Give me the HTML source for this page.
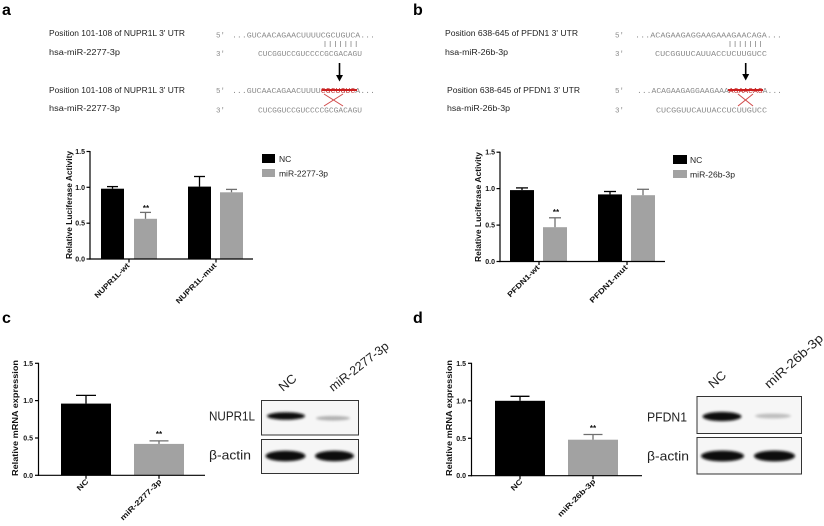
<!DOCTYPE html>
<html><head><meta charset="utf-8"><style>
html,body{margin:0;padding:0;background:#fff;}
svg{display:block;}
.pl{font-family:"Liberation Sans",Arial,sans-serif;font-size:8px;fill:#222;}
.sq{font-family:"Liberation Mono","DejaVu Sans Mono",monospace;font-size:7.5px;fill:#8a8a8a;}
.tk{font-family:"Liberation Sans",Arial,sans-serif;font-size:7px;font-weight:bold;fill:#111;}
.tt{font-family:"Liberation Sans",Arial,sans-serif;font-size:8px;font-weight:bold;fill:#111;}
.xl{font-family:"Liberation Sans",Arial,sans-serif;font-size:7.5px;font-weight:bold;fill:#111;}
.lg{font-family:"Liberation Sans",Arial,sans-serif;font-size:8.5px;fill:#222;}
.bl{font-family:"Liberation Sans",Arial,sans-serif;font-size:12.5px;fill:#222;}
.lt{font-family:"Liberation Sans",Arial,sans-serif;font-size:16px;font-weight:bold;fill:#000;}
</style></head><body>
<svg width="824" height="526" viewBox="0 0 824 526" xmlns="http://www.w3.org/2000/svg">
<defs>
<filter id="bl" x="-30%" y="-100%" width="160%" height="300%"><feGaussianBlur stdDeviation="1.3"/></filter>
</defs>
<rect width="824" height="526" fill="#fff"/>

<!-- Panel letters -->
<text class="lt" x="2" y="15">a</text>
<text class="lt" x="413" y="15">b</text>
<text class="lt" x="2" y="323">c</text>
<text class="lt" x="413" y="323">d</text>

<!-- ===== Panel a sequences ===== -->
<text class="pl" x="49" y="36" textLength="136" lengthAdjust="spacingAndGlyphs">Position 101-108 of NUPR1L 3' UTR</text>
<text class="pl" x="49" y="55" textLength="71" lengthAdjust="spacingAndGlyphs">hsa-miR-2277-3p</text>
<text class="pl" x="49" y="93" textLength="136" lengthAdjust="spacingAndGlyphs">Position 101-108 of NUPR1L 3' UTR</text>
<text class="pl" x="49" y="111" textLength="71" lengthAdjust="spacingAndGlyphs">hsa-miR-2277-3p</text>

<text class="sq" x="216" y="37.5">5'</text>
<text class="sq" x="232" y="37.5" textLength="143" lengthAdjust="spacingAndGlyphs">...GUCAACAGAACUUUUCGCUGUCA...</text>
<g stroke="#8a8a8a" stroke-width="0.8">
<line x1="325" y1="41" x2="325" y2="47"/><line x1="330.2" y1="41" x2="330.2" y2="47"/><line x1="335.4" y1="41" x2="335.4" y2="47"/><line x1="340.6" y1="41" x2="340.6" y2="47"/><line x1="345.8" y1="41" x2="345.8" y2="47"/><line x1="351" y1="41" x2="351" y2="47"/><line x1="356.2" y1="41" x2="356.2" y2="47"/>
</g>
<text class="sq" x="216" y="56">3'</text>
<text class="sq" x="258" y="56" textLength="104" lengthAdjust="spacingAndGlyphs">CUCGGUCCGUCCCCGCGACAGU</text>
<line x1="339.5" y1="63" x2="339.5" y2="76" stroke="#000" stroke-width="1.6"/>
<polygon points="336,75 343,75 339.5,81.5" fill="#000"/>
<text class="sq" x="216" y="93">5'</text>
<text class="sq" x="232" y="93" textLength="143" lengthAdjust="spacingAndGlyphs">...GUCAACAGAACUUUU<tspan fill="#c03030">CGCUGUC</tspan>A...</text>
<line x1="322" y1="90" x2="357" y2="90" stroke="#cc1f1f" stroke-width="2"/>
<line x1="324" y1="94" x2="343" y2="106" stroke="#d04848" stroke-width="1"/>
<line x1="343" y1="94" x2="324" y2="106" stroke="#d04848" stroke-width="1"/>
<text class="sq" x="216" y="112.5">3'</text>
<text class="sq" x="258" y="112.5" textLength="104" lengthAdjust="spacingAndGlyphs">CUCGGUCCGUCCCCGCGACAGU</text>

<!-- ===== Panel b sequences ===== -->
<text class="pl" x="445" y="36" textLength="133" lengthAdjust="spacingAndGlyphs">Position 638-645 of PFDN1 3' UTR</text>
<text class="pl" x="445" y="55" textLength="63" lengthAdjust="spacingAndGlyphs">hsa-miR-26b-3p</text>
<text class="pl" x="447" y="93" textLength="133" lengthAdjust="spacingAndGlyphs">Position 638-645 of PFDN1 3' UTR</text>
<text class="pl" x="447" y="111" textLength="63" lengthAdjust="spacingAndGlyphs">hsa-miR-26b-3p</text>

<text class="sq" x="615" y="37.5">5'</text>
<text class="sq" x="635" y="37.5" textLength="147" lengthAdjust="spacingAndGlyphs">...ACAGAAGAGGAAGAAAGAACAGA...</text>
<g stroke="#8a8a8a" stroke-width="0.8">
<line x1="730" y1="41" x2="730" y2="47"/><line x1="735.1" y1="41" x2="735.1" y2="47"/><line x1="740.2" y1="41" x2="740.2" y2="47"/><line x1="745.3" y1="41" x2="745.3" y2="47"/><line x1="750.4" y1="41" x2="750.4" y2="47"/><line x1="755.5" y1="41" x2="755.5" y2="47"/><line x1="760.6" y1="41" x2="760.6" y2="47"/>
</g>
<text class="sq" x="615" y="56">3'</text>
<text class="sq" x="655" y="56" textLength="112" lengthAdjust="spacingAndGlyphs">CUCGGUUCAUUACCUCUUGUCC</text>
<line x1="745.7" y1="63" x2="745.7" y2="75" stroke="#000" stroke-width="1.6"/>
<polygon points="742.2,74 749.2,74 745.7,80.5" fill="#000"/>
<text class="sq" x="615" y="93">5'</text>
<text class="sq" x="637" y="93" textLength="145" lengthAdjust="spacingAndGlyphs">...ACAGAAGAGGAAGAAA<tspan fill="#c03030">AGAACAG</tspan>A...</text>
<line x1="728" y1="90" x2="763" y2="90" stroke="#cc1f1f" stroke-width="2"/>
<line x1="738" y1="94" x2="753" y2="106" stroke="#d04848" stroke-width="1"/>
<line x1="753" y1="94" x2="738" y2="106" stroke="#d04848" stroke-width="1"/>
<text class="sq" x="615" y="112.5">3'</text>
<text class="sq" x="656" y="112.5" textLength="111" lengthAdjust="spacingAndGlyphs">CUCGGUUCAUUACCUCUUGUCC</text>

<!-- ===== Panel a bar chart ===== -->
<g>
<rect x="101" y="188.7" width="23" height="70.3" fill="#000"/>
<rect x="134" y="218.8" width="23" height="40.2" fill="#a2a2a2"/>
<rect x="188" y="186.6" width="23" height="72.4" fill="#000"/>
<rect x="220" y="192.3" width="23" height="66.7" fill="#a2a2a2"/>
<g stroke="#000" stroke-width="1.3">
<line x1="112.5" y1="188.7" x2="112.5" y2="186.6"/><line x1="107" y1="186.6" x2="118" y2="186.6"/>
<line x1="199.5" y1="186.6" x2="199.5" y2="176.5"/><line x1="194" y1="176.5" x2="205" y2="176.5"/>
</g>
<g stroke="#6f6f6f" stroke-width="1.3">
<line x1="145.5" y1="218.8" x2="145.5" y2="212.4"/><line x1="140" y1="212.4" x2="151" y2="212.4"/>
<line x1="231.5" y1="192.3" x2="231.5" y2="189.4"/><line x1="226" y1="189.4" x2="237" y2="189.4"/>
</g>
<g stroke="#000" stroke-width="1.2">
<line x1="90" y1="151" x2="90" y2="259.6"/><line x1="89.4" y1="259" x2="253" y2="259"/>
<line x1="86.5" y1="151.5" x2="90" y2="151.5"/><line x1="86.5" y1="187.3" x2="90" y2="187.3"/><line x1="86.5" y1="223.2" x2="90" y2="223.2"/><line x1="86.5" y1="259" x2="90" y2="259"/>
<line x1="129" y1="259" x2="129" y2="262.5"/><line x1="216" y1="259" x2="216" y2="262.5"/>
</g>
<text class="tk" x="85" y="154" text-anchor="end">1.5</text>
<text class="tk" x="85" y="189.8" text-anchor="end">1.0</text>
<text class="tk" x="85" y="225.7" text-anchor="end">0.5</text>
<text class="tk" x="85" y="261.5" text-anchor="end">0.0</text>
<text class="tt" transform="translate(72,205) rotate(-90)" text-anchor="middle" textLength="108" lengthAdjust="spacingAndGlyphs">Relative Luciferase Activity</text>
<text class="xl" transform="translate(130,266) rotate(-45)" text-anchor="end" textLength="46" lengthAdjust="spacingAndGlyphs">NUPR1L-wt</text>
<text class="xl" transform="translate(217,266) rotate(-45)" text-anchor="end" textLength="54" lengthAdjust="spacingAndGlyphs">NUPR1L-mut</text>
<text class="tt" x="146" y="211" text-anchor="middle">**</text>
<rect x="262" y="154" width="13" height="9" fill="#000"/>
<text class="lg" x="279" y="162">NC</text>
<rect x="262" y="169" width="13" height="8" fill="#a2a2a2"/>
<text class="lg" x="279" y="176.5" textLength="49" lengthAdjust="spacingAndGlyphs">miR-2277-3p</text>
</g>

<!-- ===== Panel b bar chart ===== -->
<g>
<rect x="510" y="190.1" width="24" height="71.4" fill="#000"/>
<rect x="543" y="227.2" width="24" height="34.3" fill="#a2a2a2"/>
<rect x="598" y="194.4" width="24" height="67.1" fill="#000"/>
<rect x="631" y="195.2" width="24" height="66.3" fill="#a2a2a2"/>
<g stroke="#000" stroke-width="1.3">
<line x1="522" y1="190.1" x2="522" y2="187.9"/><line x1="516" y1="187.9" x2="528" y2="187.9"/>
<line x1="610" y1="194.4" x2="610" y2="191.5"/><line x1="604" y1="191.5" x2="616" y2="191.5"/>
</g>
<g stroke="#6f6f6f" stroke-width="1.3">
<line x1="555" y1="227.2" x2="555" y2="217.8"/><line x1="549" y1="217.8" x2="561" y2="217.8"/>
<line x1="643" y1="195.2" x2="643" y2="189.3"/><line x1="637" y1="189.3" x2="649" y2="189.3"/>
</g>
<g stroke="#000" stroke-width="1.2">
<line x1="500" y1="151.7" x2="500" y2="262.1"/><line x1="499.4" y1="261.5" x2="665" y2="261.5"/>
<line x1="496.5" y1="152.2" x2="500" y2="152.2"/><line x1="496.5" y1="188.6" x2="500" y2="188.6"/><line x1="496.5" y1="225.1" x2="500" y2="225.1"/><line x1="496.5" y1="261.5" x2="500" y2="261.5"/>
<line x1="539" y1="261.5" x2="539" y2="265"/><line x1="627" y1="261.5" x2="627" y2="265"/>
</g>
<text class="tk" x="495" y="154.7" text-anchor="end">1.5</text>
<text class="tk" x="495" y="191.1" text-anchor="end">1.0</text>
<text class="tk" x="495" y="227.6" text-anchor="end">0.5</text>
<text class="tk" x="495" y="264" text-anchor="end">0.0</text>
<text class="tt" transform="translate(481,207) rotate(-90)" text-anchor="middle" textLength="110" lengthAdjust="spacingAndGlyphs">Relative Luciferase Activity</text>
<text class="xl" transform="translate(540,268) rotate(-45)" text-anchor="end" textLength="42" lengthAdjust="spacingAndGlyphs">PFDN1-wt</text>
<text class="xl" transform="translate(628,268) rotate(-45)" text-anchor="end" textLength="50" lengthAdjust="spacingAndGlyphs">PFDN1-mut</text>
<text class="tt" x="556" y="215" text-anchor="middle">**</text>
<rect x="673" y="155" width="14" height="9" fill="#000"/>
<text class="lg" x="690" y="163">NC</text>
<rect x="673" y="170" width="14" height="8" fill="#a2a2a2"/>
<text class="lg" x="690" y="177.5" textLength="45" lengthAdjust="spacingAndGlyphs">miR-26b-3p</text>
</g>

<!-- ===== Panel c bar chart ===== -->
<g>
<rect x="61" y="403.6" width="50" height="71.7" fill="#000"/>
<rect x="134" y="443.9" width="50" height="31.4" fill="#a2a2a2"/>
<g stroke="#000" stroke-width="1.3">
<line x1="86" y1="403.6" x2="86" y2="395.4"/><line x1="76" y1="395.4" x2="96" y2="395.4"/>
</g>
<g stroke="#6f6f6f" stroke-width="1.3">
<line x1="159" y1="443.9" x2="159" y2="440.9"/><line x1="149.5" y1="440.9" x2="168.5" y2="440.9"/>
</g>
<g stroke="#000" stroke-width="1.2">
<line x1="38.5" y1="362.8" x2="38.5" y2="475.9"/><line x1="37.9" y1="475.3" x2="205" y2="475.3"/>
<line x1="35" y1="363.3" x2="38.5" y2="363.3"/><line x1="35" y1="400.6" x2="38.5" y2="400.6"/><line x1="35" y1="438" x2="38.5" y2="438"/><line x1="35" y1="475.3" x2="38.5" y2="475.3"/>
<line x1="86" y1="475.3" x2="86" y2="478.8"/><line x1="159" y1="475.3" x2="159" y2="478.8"/>
</g>
<text class="tk" x="33" y="365.8" text-anchor="end">1.5</text>
<text class="tk" x="33" y="403.1" text-anchor="end">1.0</text>
<text class="tk" x="33" y="440.5" text-anchor="end">0.5</text>
<text class="tk" x="33" y="477.8" text-anchor="end">0.0</text>
<text class="tt" transform="translate(18,418) rotate(-90)" text-anchor="middle" textLength="116" lengthAdjust="spacingAndGlyphs">Relative mRNA expression</text>
<text class="xl" transform="translate(89,482) rotate(-45)" text-anchor="end" textLength="13" lengthAdjust="spacingAndGlyphs">NC</text>
<text class="xl" transform="translate(162,482) rotate(-45)" text-anchor="end" textLength="55" lengthAdjust="spacingAndGlyphs">miR-2277-3p</text>
<text class="tt" x="159" y="437" text-anchor="middle">**</text>
</g>

<!-- Blot c -->
<g>
<rect x="261.5" y="400.5" width="97" height="34.5" fill="#f6f6f6" stroke="#333" stroke-width="1"/>
<rect x="261.5" y="439.5" width="97" height="34" fill="#f6f6f6" stroke="#333" stroke-width="1"/>
<ellipse cx="286" cy="416" rx="19" ry="3.8" fill="#111" filter="url(#bl)"/>
<ellipse cx="333" cy="418.3" rx="17" ry="2.3" fill="#b0b0b0" filter="url(#bl)"/>
<ellipse cx="285.5" cy="456" rx="20" ry="5.3" fill="#080808" filter="url(#bl)"/>
<ellipse cx="334.5" cy="456" rx="19.5" ry="5.3" fill="#080808" filter="url(#bl)"/>
<text class="bl" x="209" y="420.5" textLength="46" lengthAdjust="spacingAndGlyphs">NUPR1L</text>
<text class="bl" x="209" y="459.5" textLength="42" lengthAdjust="spacingAndGlyphs">β-actin</text>
<text class="bl" transform="translate(283,392) rotate(-40)" textLength="19" lengthAdjust="spacingAndGlyphs">NC</text>
<text class="bl" transform="translate(333,392) rotate(-38)" textLength="72" lengthAdjust="spacingAndGlyphs">miR-2277-3p</text>
</g>

<!-- ===== Panel d bar chart ===== -->
<g>
<rect x="495" y="400.8" width="50" height="74.9" fill="#000"/>
<rect x="568" y="439.7" width="50" height="36" fill="#a2a2a2"/>
<g stroke="#000" stroke-width="1.3">
<line x1="520" y1="400.8" x2="520" y2="396.3"/><line x1="510.5" y1="396.3" x2="529.5" y2="396.3"/>
</g>
<g stroke="#6f6f6f" stroke-width="1.3">
<line x1="593" y1="439.7" x2="593" y2="434.5"/><line x1="583.5" y1="434.5" x2="602.5" y2="434.5"/>
</g>
<g stroke="#000" stroke-width="1.2">
<line x1="471.5" y1="362.8" x2="471.5" y2="476.3"/><line x1="470.9" y1="475.7" x2="642" y2="475.7"/>
<line x1="468" y1="363.3" x2="471.5" y2="363.3"/><line x1="468" y1="400.8" x2="471.5" y2="400.8"/><line x1="468" y1="438.3" x2="471.5" y2="438.3"/><line x1="468" y1="475.7" x2="471.5" y2="475.7"/>
<line x1="520" y1="475.7" x2="520" y2="479.2"/><line x1="593" y1="475.7" x2="593" y2="479.2"/>
</g>
<text class="tk" x="466" y="365.8" text-anchor="end">1.5</text>
<text class="tk" x="466" y="403.3" text-anchor="end">1.0</text>
<text class="tk" x="466" y="440.8" text-anchor="end">0.5</text>
<text class="tk" x="466" y="478.2" text-anchor="end">0.0</text>
<text class="tt" transform="translate(452,418) rotate(-90)" text-anchor="middle" textLength="116" lengthAdjust="spacingAndGlyphs">Relative mRNA expression</text>
<text class="xl" transform="translate(523,482) rotate(-45)" text-anchor="end" textLength="13" lengthAdjust="spacingAndGlyphs">NC</text>
<text class="xl" transform="translate(596,482) rotate(-45)" text-anchor="end" textLength="50" lengthAdjust="spacingAndGlyphs">miR-26b-3p</text>
<text class="tt" x="593" y="431" text-anchor="middle">**</text>
</g>

<!-- Blot d -->
<g>
<rect x="697" y="396.5" width="104.5" height="37" fill="#f6f6f6" stroke="#333" stroke-width="1"/>
<rect x="697" y="437.5" width="104.5" height="36.5" fill="#f6f6f6" stroke="#333" stroke-width="1"/>
<ellipse cx="722" cy="416.5" rx="19.5" ry="4.6" fill="#0c0c0c" filter="url(#bl)"/>
<ellipse cx="773" cy="416" rx="18" ry="2.4" fill="#bdbdbd" filter="url(#bl)"/>
<ellipse cx="722.5" cy="456" rx="21.5" ry="5.4" fill="#080808" filter="url(#bl)"/>
<ellipse cx="774.5" cy="456" rx="20.5" ry="5.4" fill="#080808" filter="url(#bl)"/>
<text class="bl" x="647" y="421.5" textLength="40" lengthAdjust="spacingAndGlyphs">PFDN1</text>
<text class="bl" x="647" y="460.5" textLength="42" lengthAdjust="spacingAndGlyphs">β-actin</text>
<text class="bl" transform="translate(713,389) rotate(-42)" textLength="19" lengthAdjust="spacingAndGlyphs">NC</text>
<text class="bl" transform="translate(769,389) rotate(-42)" textLength="74" lengthAdjust="spacingAndGlyphs">miR-26b-3p</text>
</g>
</svg>
</body></html>
